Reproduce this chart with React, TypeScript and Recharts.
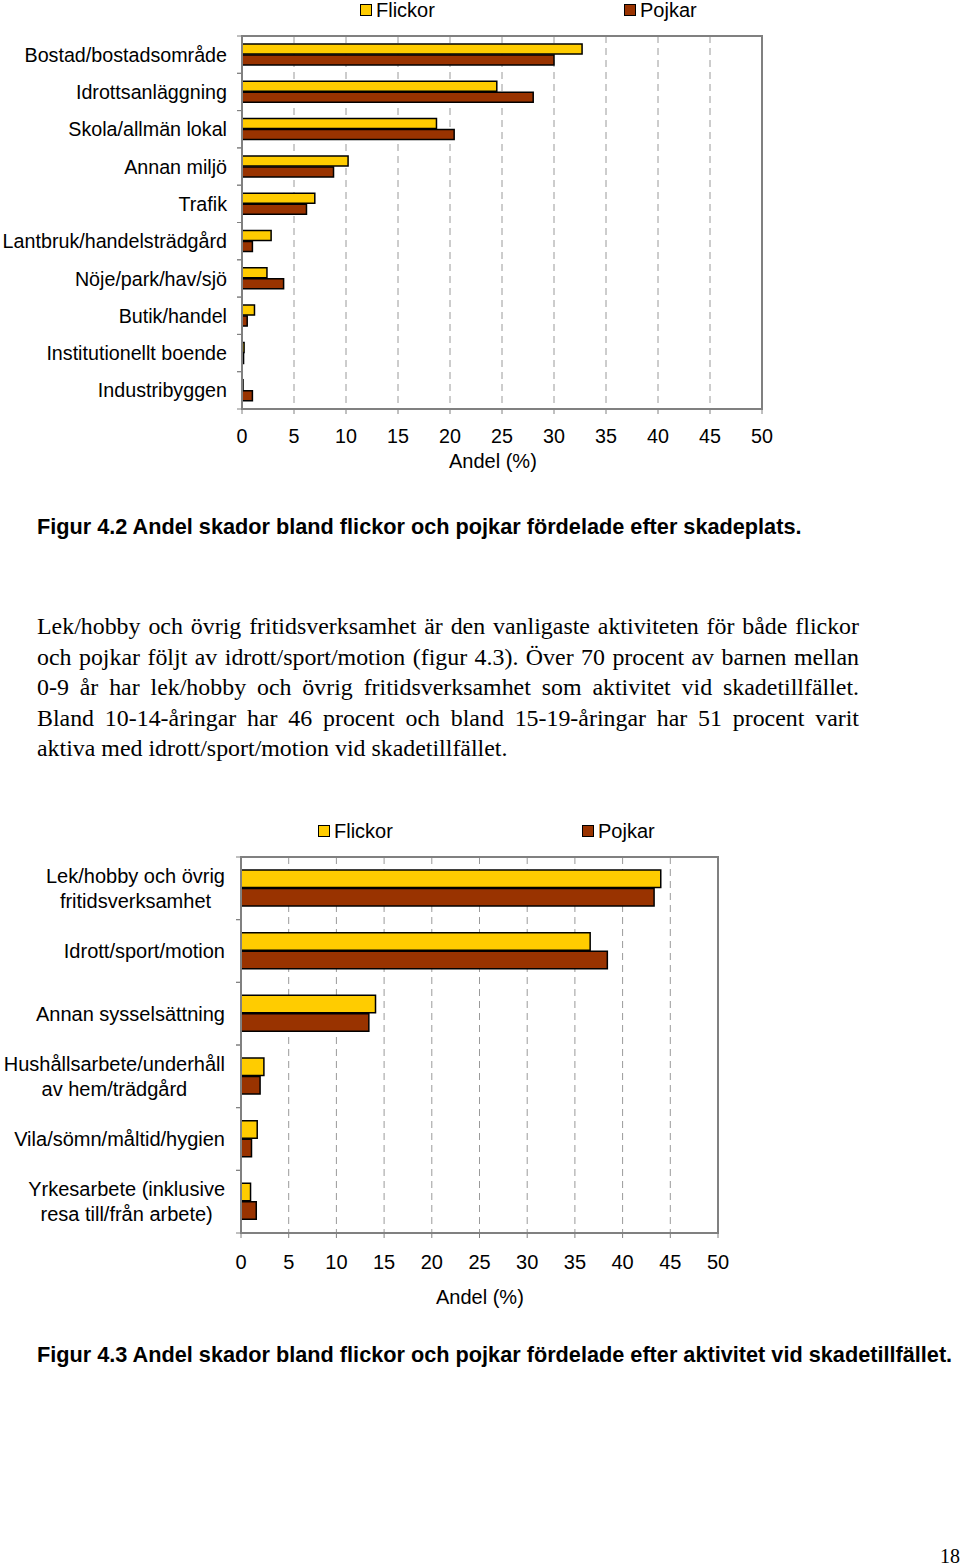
import React from 'react';
import { Bar, BarChart, CartesianGrid, ReferenceArea, XAxis, YAxis } from 'recharts';

// Figur 4.2 – skadeplats
const placeCategories = [
  'Bostad/bostadsområde',
  'Idrottsanläggning',
  'Skola/allmän lokal',
  'Annan miljö',
  'Trafik',
  'Lantbruk/handelsträdgård',
  'Nöje/park/hav/sjö',
  'Butik/handel',
  'Institutionellt boende',
  'Industribyggen',
];
const placeFlickor = [32.7, 24.5, 18.7, 10.2, 7.0, 2.8, 2.4, 1.2, 0.2, 0.1];
const placePojkar = [30.0, 28.0, 20.4, 8.8, 6.2, 1.0, 4.0, 0.5, 0.15, 1.0];

// Figur 4.3 – aktivitet
const activityCategories = [
  'Lek/hobby och övrig\nfritidsverksamhet',
  'Idrott/sport/motion',
  'Annan sysselsättning',
  'Hushållsarbete/underhåll\nav hem/trädgård',
  'Vila/sömn/måltid/hygien',
  'Yrkesarbete (inklusive\nresa till/från arbete)',
];
const activityFlickor = [44.0, 36.6, 14.1, 2.4, 1.7, 1.0];
const activityPojkar = [43.3, 38.4, 13.4, 2.0, 1.1, 1.6];

const xTicks = [0, 5, 10, 15, 20, 25, 30, 35, 40, 45, 50];

const FLICKOR = '#FFCC00';
const POJKAR = '#993300';
const GRAY = '#808080';
const SANS = '"Liberation Sans", Arial, sans-serif';
const SERIF = '"Liberation Serif", "Times New Roman", serif';

const placeData = placeCategories.map((name, i) => ({
  name,
  flickor: placeFlickor[i],
  pojkar: placePojkar[i],
}));
const activityData = activityCategories.map((name, i) => ({
  name,
  flickor: activityFlickor[i],
  pojkar: activityPojkar[i],
}));

let ctx: CanvasRenderingContext2D | null = null;
const measure = (s: string, fs: number) => {
  if (!ctx) ctx = document.createElement('canvas').getContext('2d');
  if (!ctx) return s.length * fs * 0.5;
  ctx.font = `${fs}px "Liberation Sans"`;
  return ctx.measureText(s).width;
};

const CategoryTick = (props: any) => {
  const { y, payload, right, band, axisX, fs } = props;
  const lines = String(payload.value).split('\n');
  const maxW = Math.max(...lines.map((l) => measure(l, fs)));
  const cx = right - maxW / 2;
  const lh = 25;
  const y0 = y - ((lines.length - 1) * lh) / 2;
  return (
    <g>
      <line x1={axisX - 5} x2={axisX} y1={y - band / 2} y2={y - band / 2} stroke={GRAY} />
      <line x1={axisX - 5} x2={axisX} y1={y + band / 2} y2={y + band / 2} stroke={GRAY} />
      <text textAnchor="middle" fontSize={fs} fontFamily={SANS} fill="#000">
        {lines.map((l, i) => (
          <tspan key={i} x={cx} y={y0 + i * lh} dy="0.36em">
            {l}
          </tspan>
        ))}
      </text>
    </g>
  );
};

const LegendItem = ({ left, top, color, label }: { left: number; top: number; color: string; label: string }) => (
  <div style={{ position: 'absolute', left, top, display: 'flex', alignItems: 'center' }}>
    <div style={{ width: 10, height: 10, background: color, border: '1.5px solid #000', marginRight: 4 }} />
    <span style={{ fontFamily: SANS, fontSize: 20, lineHeight: '20px' }}>{label}</span>
  </div>
);

const HBarChart = ({ data, top, height, plotTop, plotBottom, plotLeft, plotRight, barSize, labelRight, tickMargin, fs }: any) => {
  const band = (plotBottom - plotTop) / data.length;
  const xAxisHeight = 60;
  return (
    <div style={{ position: 'absolute', left: 0, top }}>
      <BarChart
        width={960}
        height={height}
        data={data}
        layout="vertical"
        barSize={barSize}
        barGap={1}
        margin={{ top: plotTop, right: 960 - plotRight, left: 0, bottom: height - plotBottom - xAxisHeight }}
      >
        <CartesianGrid horizontal={false} stroke="#9a9a9a" strokeDasharray="7 5" />
        <XAxis
          type="number"
          domain={[0, 50]}
          ticks={xTicks}
          height={xAxisHeight}
          interval={0}
          axisLine={{ stroke: GRAY, strokeWidth: 2 }}
          tickLine={{ stroke: GRAY }}
          tickSize={5}
          tickMargin={tickMargin}
          tick={{ fontSize: fs, fontFamily: SANS, fill: '#000' }}
        />
        <YAxis
          type="category"
          dataKey="name"
          width={plotLeft}
          interval={0}
          axisLine={{ stroke: GRAY, strokeWidth: 2 }}
          tickLine={false}
          tick={(p: any) => <CategoryTick {...p} right={labelRight} band={band} axisX={plotLeft} fs={fs} />}
        />
        <ReferenceArea x1={0} x2={50} fill="none" stroke={GRAY} strokeWidth={2} ifOverflow="extendDomain" />
        <Bar dataKey="flickor" fill={FLICKOR} stroke="#000" strokeWidth={1.5} isAnimationActive={false} />
        <Bar dataKey="pojkar" fill={POJKAR} stroke="#000" strokeWidth={1.5} isAnimationActive={false} />
      </BarChart>
    </div>
  );
};

const paragraph = [
  'Lek/hobby och övrig fritidsverksamhet är den vanligaste aktiviteten för både flickor',
  'och pojkar följt av idrott/sport/motion (figur 4.3). Över 70 procent av barnen mellan',
  '0-9 år har lek/hobby och övrig fritidsverksamhet som aktivitet vid skadetillfället.',
  'Bland 10-14-åringar har 46 procent och bland 15-19-åringar har 51 procent varit',
  'aktiva med idrott/sport/motion vid skadetillfället.',
];

const textAt = (left: number, top: number, text: string, extra: React.CSSProperties = {}) => (
  <div style={{ position: 'absolute', left, top, fontFamily: SANS, fontSize: 20, lineHeight: '24px', whiteSpace: 'nowrap', ...extra }}>
    {text}
  </div>
);

const captionStyle: React.CSSProperties = {
  position: 'absolute',
  left: 37,
  fontFamily: SANS,
  fontWeight: 'bold',
  fontSize: 21.7,
  lineHeight: '24px',
  whiteSpace: 'nowrap',
};

export default function App() {
  return (
    <div style={{ position: 'absolute', left: 0, top: 0, width: 960, height: 1566, background: '#fff', overflow: 'hidden' }}>
      <LegendItem left={360} top={0} color={FLICKOR} label="Flickor" />
      <LegendItem left={624} top={0} color={POJKAR} label="Pojkar" />
      <HBarChart
        data={placeData}
        top={0}
        height={480}
        plotTop={36}
        plotBottom={409}
        plotLeft={242}
        plotRight={762}
        barSize={10}
        labelRight={227}
        tickMargin={15}
        fs={19.7}
      />
      {textAt(449, 449, 'Andel (%)')}

      <div style={{ ...captionStyle, top: 515 }}>
        Figur 4.2 Andel skador bland flickor och pojkar fördelade efter skadeplats.
      </div>

      <div style={{ position: 'absolute', left: 37, top: 611, width: 822, fontFamily: SERIF, fontSize: 23.9, lineHeight: '30.5px' }}>
        {paragraph.map((line, i) => (
          <div
            key={i}
            style={{
              textAlign: i < paragraph.length - 1 ? 'justify' : 'left',
              textAlignLast: i < paragraph.length - 1 ? 'justify' : 'left',
              whiteSpace: 'nowrap',
            }}
          >
            {line}
          </div>
        ))}
      </div>

      <LegendItem left={318} top={821} color={FLICKOR} label="Flickor" />
      <LegendItem left={582} top={821} color={POJKAR} label="Pojkar" />
      <HBarChart
        data={activityData}
        top={800}
        height={530}
        plotTop={57}
        plotBottom={433}
        plotLeft={241}
        plotRight={718}
        barSize={17.5}
        labelRight={225}
        tickMargin={17}
        fs={20}
      />
      {textAt(436, 1285, 'Andel (%)')}

      <div style={{ ...captionStyle, top: 1343 }}>
        Figur 4.3 Andel skador bland flickor och pojkar fördelade efter aktivitet vid skadetillfället.
      </div>

      <div style={{ position: 'absolute', left: 940, top: 1544, fontFamily: SERIF, fontSize: 20, lineHeight: '24px' }}>18</div>
    </div>
  );
}
